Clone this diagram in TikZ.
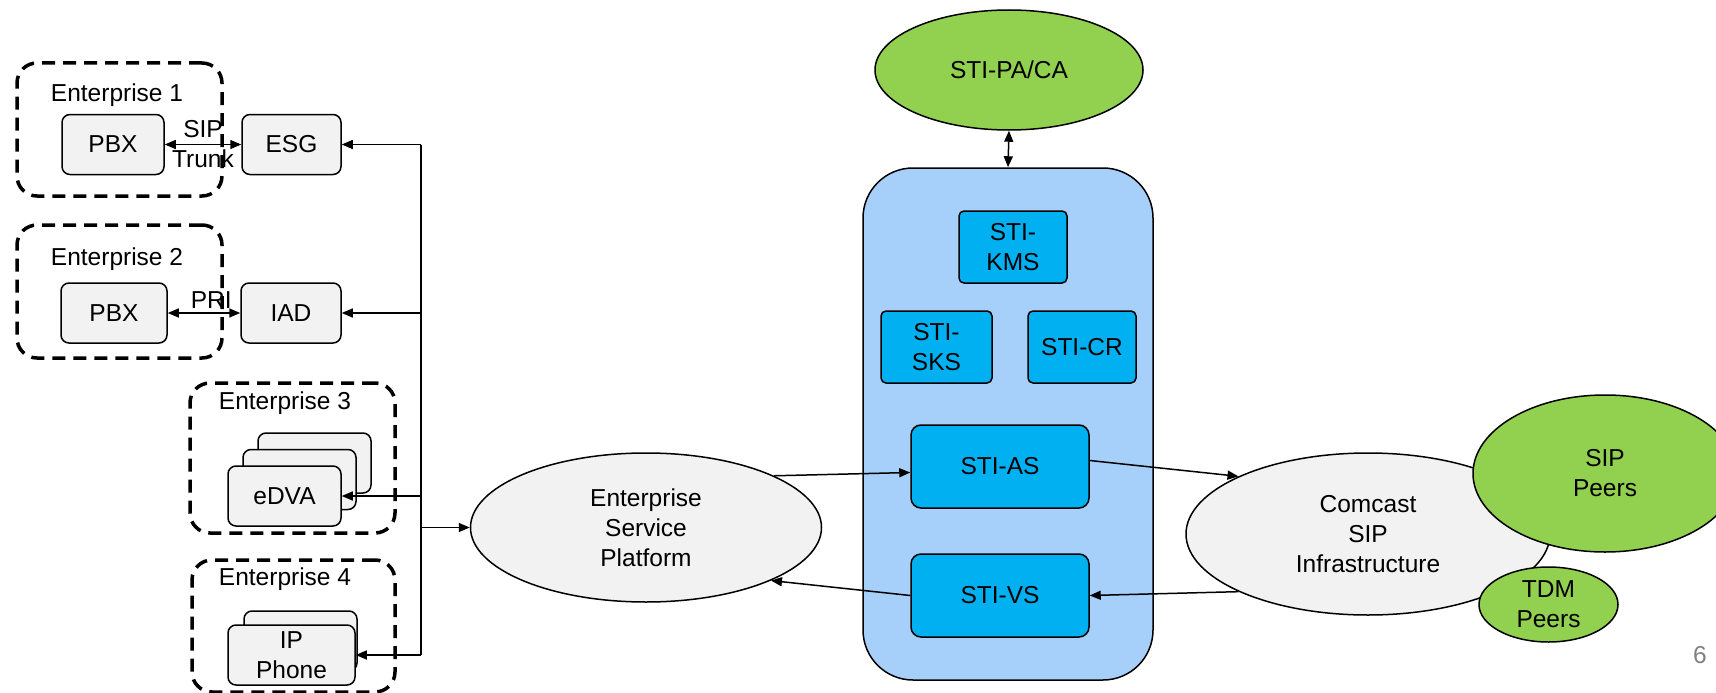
\documentclass[tikz,border=0pt]{standalone}
\usepackage{fontspec}
\setmainfont{Liberation Sans}
\usetikzlibrary{arrows.meta, positioning, shapes}

\definecolor{boxgray}{HTML}{F2F2F2}
\definecolor{peergreen}{HTML}{92D050}
\definecolor{stiblue}{HTML}{00B0F0}
\definecolor{platblue}{HTML}{A6CFFA}

\begin{document}
\begin{tikzpicture}[x=1pt, y=-1pt, font=\fontsize{24.5}{30}\selectfont,
    every node/.style={align=center, inner sep=2pt},
    enterprise/.style={draw, line width=3.5pt, dash pattern=on 13pt off 8pt, rounded corners=20pt},
    device/.style={draw, fill=boxgray, line width=1.5pt, rounded corners=8pt, minimum height=60pt},
    sti/.style={draw, fill=stiblue, line width=1.5pt, rounded corners=5pt},
    cloud/.style={draw, ellipse, line width=1.5pt, fill=boxgray, inner sep=0pt},
    peer/.style={draw, ellipse, line width=1.5pt, fill=peergreen, inner sep=0pt},
    link/.style={line width=1.5pt, -{Triangle[length=11pt, width=9pt]}},
    dlink/.style={line width=1.5pt, {Triangle[length=11pt, width=9pt]}-{Triangle[length=11pt, width=9pt]}}]

    \useasboundingbox (0,0) rectangle (1716,693);

    % enterprises
    \node[enterprise, minimum width=205pt, minimum height=133pt] (e1) at (119.5,129.5) {};
    \node[enterprise, minimum width=205pt, minimum height=133pt] (e2) at (119.5,291.5) {};
    \node[enterprise, minimum width=205pt, minimum height=150pt] (e3) at (292.5,458) {};
    \node[enterprise, minimum width=203pt, minimum height=132pt] (e4) at (293.5,626) {};
    \node (e1label) at (117,95) {Enterprise 1};
    \node (e2label) at (117,259) {Enterprise 2};
    \node (e3label) at (285,403) {Enterprise 3};
    \node (e4label) at (285,579) {Enterprise 4};

    \node[device, minimum width=102pt] (pbx1) at (113,144.5) {PBX};
    \node[device, minimum width=99pt] (esg) at (291.5,144.5) {ESG};
    \node[device, minimum width=106pt] (pbx2) at (114,313) {PBX};
    \node[device, minimum width=100pt] (iad) at (291,313) {IAD};
    \node[device, minimum width=113pt] (edva3) at (314.5,463) {};
    \node[device, minimum width=113pt] (edva2) at (299.5,479.5) {};
    \node[device, minimum width=113pt] (edva) at (284.5,496) {eDVA};
    \node[device, minimum width=113pt] (phone2) at (300.5,641) {};
    \node[device, minimum width=127pt] (phone) at (291.5,655) {IP\\Phone};

    \draw[dlink] (pbx1) -- node {SIP\\Trunk} (esg);
    \draw[dlink] (pbx2) -- node[pos=0.6, above=2pt] {PRI} (iad);

    % service platform and STI
    \node[cloud, minimum width=351pt, minimum height=149pt] (esp) at (646,527.5) {Enterprise\\Service\\Platform};
    \node[draw, fill=platblue, line width=1.5pt, rounded corners=50pt,
          minimum width=290pt, minimum height=512pt] (platform) at (1008,424) {};
    \node[peer, minimum width=268pt, minimum height=120pt] (paca) at (1009,70) {STI-PA/CA};
    \node[sti, minimum width=108pt, minimum height=72pt] (kms) at (1013,247) {STI-\\KMS};
    \node[sti, minimum width=111pt, minimum height=72pt] (sks) at (936.5,347) {STI-\\SKS};
    \node[sti, minimum width=108pt, minimum height=72pt] (cr) at (1082,347) {STI-CR};
    \node[sti, minimum width=178pt, minimum height=83pt, rounded corners=10pt] (as) at (1000,466.5) {STI-AS};
    \node[sti, minimum width=178pt, minimum height=83pt, rounded corners=10pt] (vs) at (1000,595.5) {STI-VS};

    % comcast side
    \node[cloud, minimum width=364pt, minimum height=162pt] (comcast) at (1368,534) {Comcast\\SIP\\Infrastructure};
    \node[peer, minimum width=264pt, minimum height=157pt] (sippeers) at (1605,473.5) {SIP\\Peers};
    \node[peer, minimum width=139pt, minimum height=75pt] (tdmpeers) at (1548.5,604.5) {TDM\\Peers};
    \node[text=gray] (pagenum) at (1700,655) {6};

    % connectors
    \coordinate (bus) at (421,0);
    \draw[line width=1.5pt] (esg.east -| bus) -- (phone.east -| bus);
    \draw[link] (esg.east -| bus) -- (esg.east);
    \draw[link] (iad.east -| bus) -- (iad.east);
    \draw[link] (edva.east -| bus) -- (edva.east);
    \draw[link] (phone.east -| bus) -- (phone.east);
    \draw[link] (esp.west -| bus) -- (esp.west);
    \draw[link] (esp.22) -- ([yshift=-6pt]as.west);
    \draw[link] (vs.west) -- (esp.-23);
    \draw[link] ([yshift=6pt]as.east) -- (comcast.156);
    \draw[link] (comcast.204) -- (vs.east);
    \draw[dlink] (paca.south) -- (platform.north);
\end{tikzpicture}
\end{document}
